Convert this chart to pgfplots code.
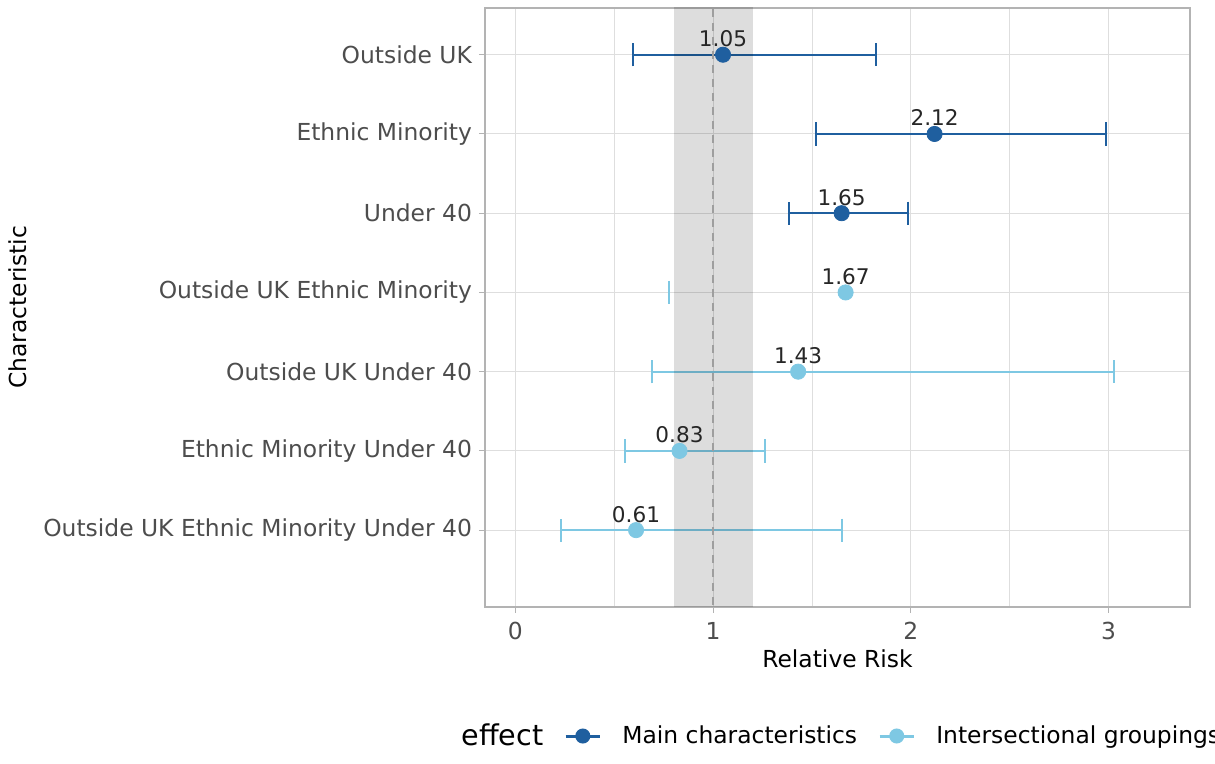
\documentclass[border=0pt]{standalone}
\usepackage{fontspec}
\setmainfont{DejaVu Sans}
\usepackage{pgfplots}
\pgfplotsset{compat=1.18}
\definecolor{darkb}{HTML}{1F5F9F}
\definecolor{lightb}{HTML}{7EC8E3}
\definecolor{gridc}{HTML}{DEDEDE}
\definecolor{borderc}{HTML}{B3B3B3}
\definecolor{tickc}{HTML}{4D4D4D}
\definecolor{dashc}{HTML}{9E9E9E}
\begin{document}
\begin{tikzpicture}
\begin{axis}[
  at={(0,0)}, anchor=south west,
  scale only axis, width=352.5pt, height=299.5pt,
  xmin=-0.154, xmax=3.412, ymin=0.03, ymax=7.59,
  xtick={0,1,2,3}, minor xtick={0.5,1.5,2.5},
  ytick={1,2,3,4,5,6,7},
  yticklabels={Outside UK Ethnic Minority Under 40, Ethnic Minority Under 40, Outside UK Under 40, Outside UK Ethnic Minority, Under 40, Ethnic Minority, Outside UK},
  xmajorgrids, xminorgrids, ymajorgrids,
  major grid style={gridc, line width=0.5pt},
  minor grid style={gridc, line width=0.35pt},
  axis line style={borderc, line width=0.6pt},
  tick align=outside, major tick length=3pt, minor tick length=0pt,
  tick style={borderc, line width=0.5pt},
  xtick pos=left, ytick pos=left,
  /pgf/number format/assume math mode=true,
  ticklabel style={font=\fontsize{11.7}{14}\selectfont, text=tickc},
  xticklabel style={yshift=-1pt},
  xlabel={Relative Risk}, ylabel={Characteristic},
  label style={font=\fontsize{11.7}{14}\selectfont},
  xlabel style={at={(axis description cs:0.5,-0.0868)}, anchor=center},
  ylabel style={at={(axis description cs:-0.6624,0.5)}, anchor=center},
  legend columns=-1,
  legend style={draw=none, fill=none, at={(axis description cs:-0.0638,-0.2154)}, anchor=west,
    font=\fontsize{11.7}{14}\selectfont, column sep=10.5pt, inner sep=0pt, nodes={inner sep=0pt}},
  legend cell align=left,
]
% Main characteristics
\addplot[forget plot, only marks, mark=*, mark size=3.8pt, darkb,
  error bars/.cd, x dir=both, x explicit, error mark=|,
  error bar style={line width=1.1pt, darkb},
  error mark options={darkb, line width=1.1pt, mark size=5.8pt}]
coordinates {
  (1.05,7) += (0.773,0) -= (0.456,0)
  (2.12,6) += (0.867,0) -= (0.600,0)
  (1.65,5) += (0.335,0) -= (0.267,0)
};
% Intersectional groupings
\addplot[forget plot, only marks, mark=*, mark size=3.8pt, lightb,
  error bars/.cd, x dir=both, x explicit, error mark=|,
  error bar style={line width=1.1pt, lightb},
  error mark options={lightb, line width=1.1pt, mark size=5.8pt}]
coordinates {
  (1.43,3) += (1.597,0) -= (0.740,0)
  (0.83,2) += (0.432,0) -= (0.276,0)
  (0.61,1) += (1.042,0) -= (0.380,0)
};
\addplot[forget plot, only marks, mark=*, mark size=3.8pt, lightb] coordinates {(1.67,4)};
\addplot[forget plot, only marks, mark=|, mark size=5.8pt, lightb, line width=1.1pt] coordinates {(0.776,4)};
% reference band and line
\addplot[forget plot, draw=none, fill=black, fill opacity=0.135] coordinates {(0.8,-1) (1.2,-1) (1.2,9) (0.8,9)} -- cycle;
\addplot[forget plot, dashc, line width=0.7pt, dash pattern=on 4pt off 3pt] coordinates {(1,-1) (1,9)};
% value labels
\addplot[forget plot, draw=none, mark=none, nodes near coords, point meta=explicit symbolic,
  every node near coord/.append style={anchor=base, yshift=4pt, font=\fontsize{10.8}{13}\selectfont, text={black!85}}]
coordinates {
  (1.05,7) [1.05]
  (2.12,6) [2.12]
  (1.65,5) [1.65]
  (1.67,4) [1.67]
  (1.43,3) [1.43]
  (0.83,2) [0.83]
  (0.61,1) [0.61]
};
\addlegendimage{empty legend}
\addlegendentry{\fontsize{14.3}{17}\selectfont effect}
\addlegendimage{darkb, line width=1.5pt, mark=*, mark size=3pt}
\addlegendentry{Main characteristics}
\addlegendimage{lightb, line width=1.5pt, mark=*, mark size=3pt}
\addlegendentry{Intersectional groupings}
\end{axis}
\pgfresetboundingbox
\path[use as bounding box] (-242.5pt,-78.5pt) rectangle (365pt,303.5pt);
\end{tikzpicture}
\end{document}
